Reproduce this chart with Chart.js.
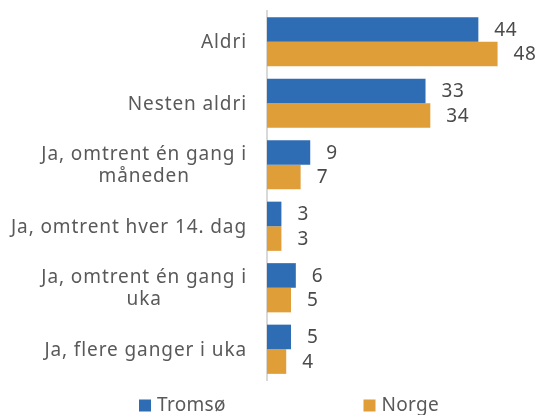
<!DOCTYPE html>
<html>
<head>
<meta charset="utf-8">
<script src="https://cdn.jsdelivr.net/npm/chart.js@4/dist/chart.umd.min.js"></script>
<style>
  html, body { margin: 0; padding: 0; background: #ffffff; }
  #wrap { width: 539px; height: 415px; position: relative; }
</style>
</head>
<body>
<div id="wrap"><canvas id="chart"></canvas></div>
<script>
// Answer categories (multi-line where the label wraps)
const categories = [
  ['Aldri'],
  ['Nesten aldri'],
  ['Ja, omtrent én gang i', 'måneden'],
  ['Ja, omtrent hver 14. dag'],
  ['Ja, omtrent én gang i', 'uka'],
  ['Ja, flere ganger i uka']
];
const seriesNames = ['Tromsø', 'Norge'];
const tromsoValues = [44, 33, 9, 3, 6, 5];
const norgeValues = [48, 34, 7, 3, 5, 4];

const BLUE = '#2E6DB4';
const ORANGE = '#DF9E38';
const FONT = '"Noto Sans", "Open Sans", sans-serif';
const TEXT = '#595959';

// Category labels, value labels and the legend, painted on the chart canvas
const annotate = {
  id: 'annotate',
  afterDatasetsDraw(chart) {
    const ctx = chart.ctx;
    ctx.save();
    ctx.font = '19px ' + FONT;
    ctx.letterSpacing = '0.6px';
    ctx.fillStyle = '#4a4a4a';
    ctx.textAlign = 'left';
    ctx.textBaseline = 'middle';
    chart.data.datasets.forEach((ds, di) => {
      chart.getDatasetMeta(di).data.forEach((bar, i) => {
        ctx.fillText(String(ds.data[i]), bar.x + 16, bar.y + 1);
      });
    });
    ctx.restore();
  },
  afterDraw(chart) {
    const ctx = chart.ctx;
    const yScale = chart.scales.y;
    ctx.save();
    ctx.font = '19px ' + FONT;
    ctx.letterSpacing = '0.9px';
    ctx.fillStyle = TEXT;
    ctx.textBaseline = 'middle';
    ctx.textAlign = 'center';
    const right = chart.chartArea.left - 20;
    const lineH = 22;
    categories.forEach((lines, i) => {
      const cy = yScale.getPixelForValue(i);
      const w = Math.max(...lines.map(l => ctx.measureText(l).width));
      const cx = right - w / 2;
      const top = cy - (lines.length - 1) * lineH / 2;
      lines.forEach((l, k) => ctx.fillText(l, cx, top + k * lineH + 1));
    });

    // legend
    ctx.letterSpacing = '0.3px';
    const colors = [BLUE, ORANGE];
    const boxX = [139, 363.5];
    const ly = 405;
    ctx.textAlign = 'left';
    seriesNames.forEach((name, k) => {
      ctx.fillStyle = colors[k];
      ctx.fillRect(boxX[k], ly - 5.5, 12, 12);
      ctx.fillStyle = TEXT;
      ctx.fillText(name, boxX[k] + 18, ly + 1);
    });
    ctx.restore();
  }
};

new Chart(document.getElementById('chart'), {
  type: 'bar',
  data: {
    labels: categories,
    datasets: [
      { label: seriesNames[0], data: tromsoValues, backgroundColor: BLUE,
        barPercentage: 1, categoryPercentage: 0.8 },
      { label: seriesNames[1], data: norgeValues, backgroundColor: ORANGE,
        barPercentage: 1, categoryPercentage: 0.8 }
    ]
  },
  options: {
    indexAxis: 'y',
    responsive: true,
    maintainAspectRatio: false,
    animation: false,
    layout: { padding: { top: 11, bottom: 35, right: 3, left: 0 } },
    scales: {
      x: { display: false, min: 0, max: 56 },
      y: {
        grid: { display: false },
        border: { display: true, color: '#d9d9d9', width: 2 },
        ticks: { display: false },
        afterFit(scale) { scale.width = 267; }
      }
    },
    plugins: {
      legend: { display: false },
      tooltip: { enabled: false }
    }
  },
  plugins: [annotate]
});
</script>
</body>
</html>
